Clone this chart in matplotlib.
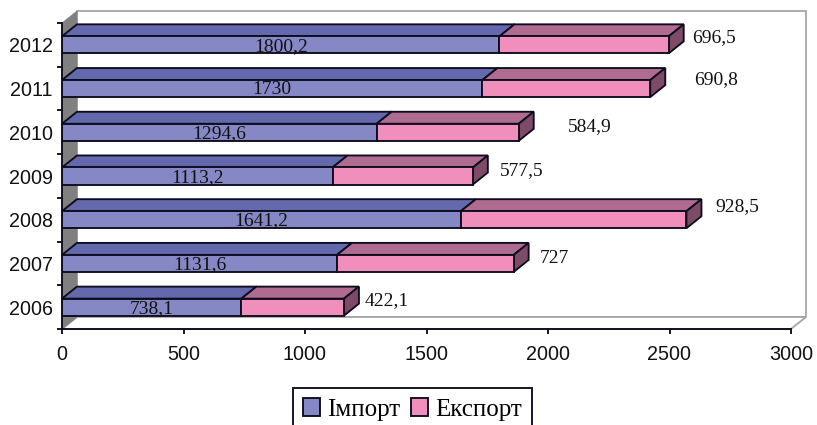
import matplotlib
matplotlib.use("Agg")
import matplotlib.pyplot as plt
from matplotlib.patches import Polygon, Patch

years = ["2006", "2007", "2008", "2009", "2010", "2011", "2012"]
imports = [738.1, 1131.6, 1641.2, 1113.2, 1294.6, 1730, 1800.2]
exports = [422.1, 727, 928.5, 577.5, 584.9, 690.8, 696.5]

# where each export label sits relative to the end of its bar, in pixels
export_dx = [6, 11, 14, 12, 34, 29, 8]
export_dy = [7, 5, 13, 5, 6, 9, 7]

blue = "#8588c4"
blue_top = "#6469ae"
pink = "#f08fbb"
pink_top = "#b06b91"
pink_side = "#7d4a68"
edge = "#0c0c1e"
wall_grey = "#808080"
wall_edge = "#a6a6a6"

SERIF = "Liberation Serif"
SANS = "Liberation Sans"
PX = 0.72  # points per pixel at dpi 100
LW = 1.35

fig = plt.figure(figsize=(8.17, 4.25), dpi=100)
ax = fig.add_axes([62 / 817, (425 - 329) / 425, 729 / 817, 306 / 425])
ax.set_xlim(0, 3000)
ax.set_ylim(0, 7)

# depth of the fake 3d box in data units
dx = 15 / 0.243
dy = 12 / 43.7
bar_h = 0.39


def poly(points, face, ec, z, lw=LW):
    ax.add_patch(Polygon(points, closed=True, facecolor=face, edgecolor=ec,
                         linewidth=lw, zorder=z, clip_on=False, joinstyle="miter"))


# back wall, floor and grey side wall
poly([(dx, dy), (3000 + dx, dy), (3000 + dx, 7 + dy), (dx, 7 + dy)], "white", wall_edge, 0.5, 1.3)
poly([(0, 0), (dx, dy), (3000 + dx, dy), (3000, 0)], "white", wall_edge, 0.6, 1.3)
poly([(0, 0), (dx, dy), (dx, 7 + dy), (0, 7)], wall_grey, wall_grey, 0.7, 0.5)

for i in range(len(years)):
    y = i + 0.5
    lo = y - bar_h / 2
    hi = y + bar_h / 2
    a = imports[i]
    b = imports[i] + exports[i]
    poly([(0, hi), (dx, hi + dy), (a + dx, hi + dy), (a, hi)], blue_top, edge, 3)
    poly([(a, hi), (a + dx, hi + dy), (b + dx, hi + dy), (b, hi)], pink_top, edge, 3)
    poly([(b, lo), (b + dx, lo + dy), (b + dx, hi + dy), (b, hi)], pink_side, edge, 3)

    ax.barh(y, imports[i], height=bar_h, color=blue, edgecolor=edge, linewidth=LW, zorder=4)
    ax.barh(y, exports[i], left=a, height=bar_h, color=pink, edgecolor=edge, linewidth=LW, zorder=4)

    ax.text(a / 2, y - 0.03, f"{imports[i]:g}".replace(".", ","), ha="center", va="center",
            family=SERIF, fontsize=14, color="#111111", zorder=5)
    ax.annotate(f"{exports[i]:g}".replace(".", ","), xy=(b + dx, y),
                xytext=(export_dx[i] * PX, export_dy[i] * PX), textcoords="offset points",
                ha="left", va="center", family=SERIF, fontsize=14, color="#111111",
                annotation_clip=False, zorder=5)

ax.patch.set_visible(False)
for s in ["top", "right"]:
    ax.spines[s].set_visible(False)
for s in ["left", "bottom"]:
    ax.spines[s].set_linewidth(LW)
    ax.spines[s].set_color(edge)
    ax.spines[s].set_zorder(6)

ax.set_xticks(range(0, 3001, 500))
ax.set_yticks(range(0, 8))
ax.set_yticklabels([])
ax.set_yticks([i + 0.5 for i in range(7)], minor=True)
ax.set_yticklabels(years, minor=True, family=SANS, fontsize=14.2, color="#111111")
ax.tick_params(axis="y", which="minor", length=0, pad=6.5)
ax.tick_params(axis="y", which="major", length=3.5, width=LW, color=edge)
ax.tick_params(axis="x", length=3.5, width=LW, color=edge, pad=8)
for t in ax.get_xticklabels():
    t.set_family(SANS)
    t.set_fontsize(14.2)
    t.set_color("#111111")

handles = [Patch(facecolor=blue, edgecolor=edge, linewidth=LW, label="Імпорт"),
           Patch(facecolor=pink, edgecolor=edge, linewidth=LW, label="Експорт")]
leg = fig.legend(handles=handles, ncol=2, loc="center", bbox_to_anchor=(412.5 / 817, (425 - 409.5) / 425),
                 prop={"family": SERIF, "size": 18}, frameon=True, fancybox=False,
                 edgecolor=edge, framealpha=1, borderpad=0.42, borderaxespad=0,
                 handlelength=0.68, handleheight=0.68, handletextpad=0.3, columnspacing=0.4)
leg.get_frame().set_linewidth(LW)

fig.savefig("out.png", dpi=100)
